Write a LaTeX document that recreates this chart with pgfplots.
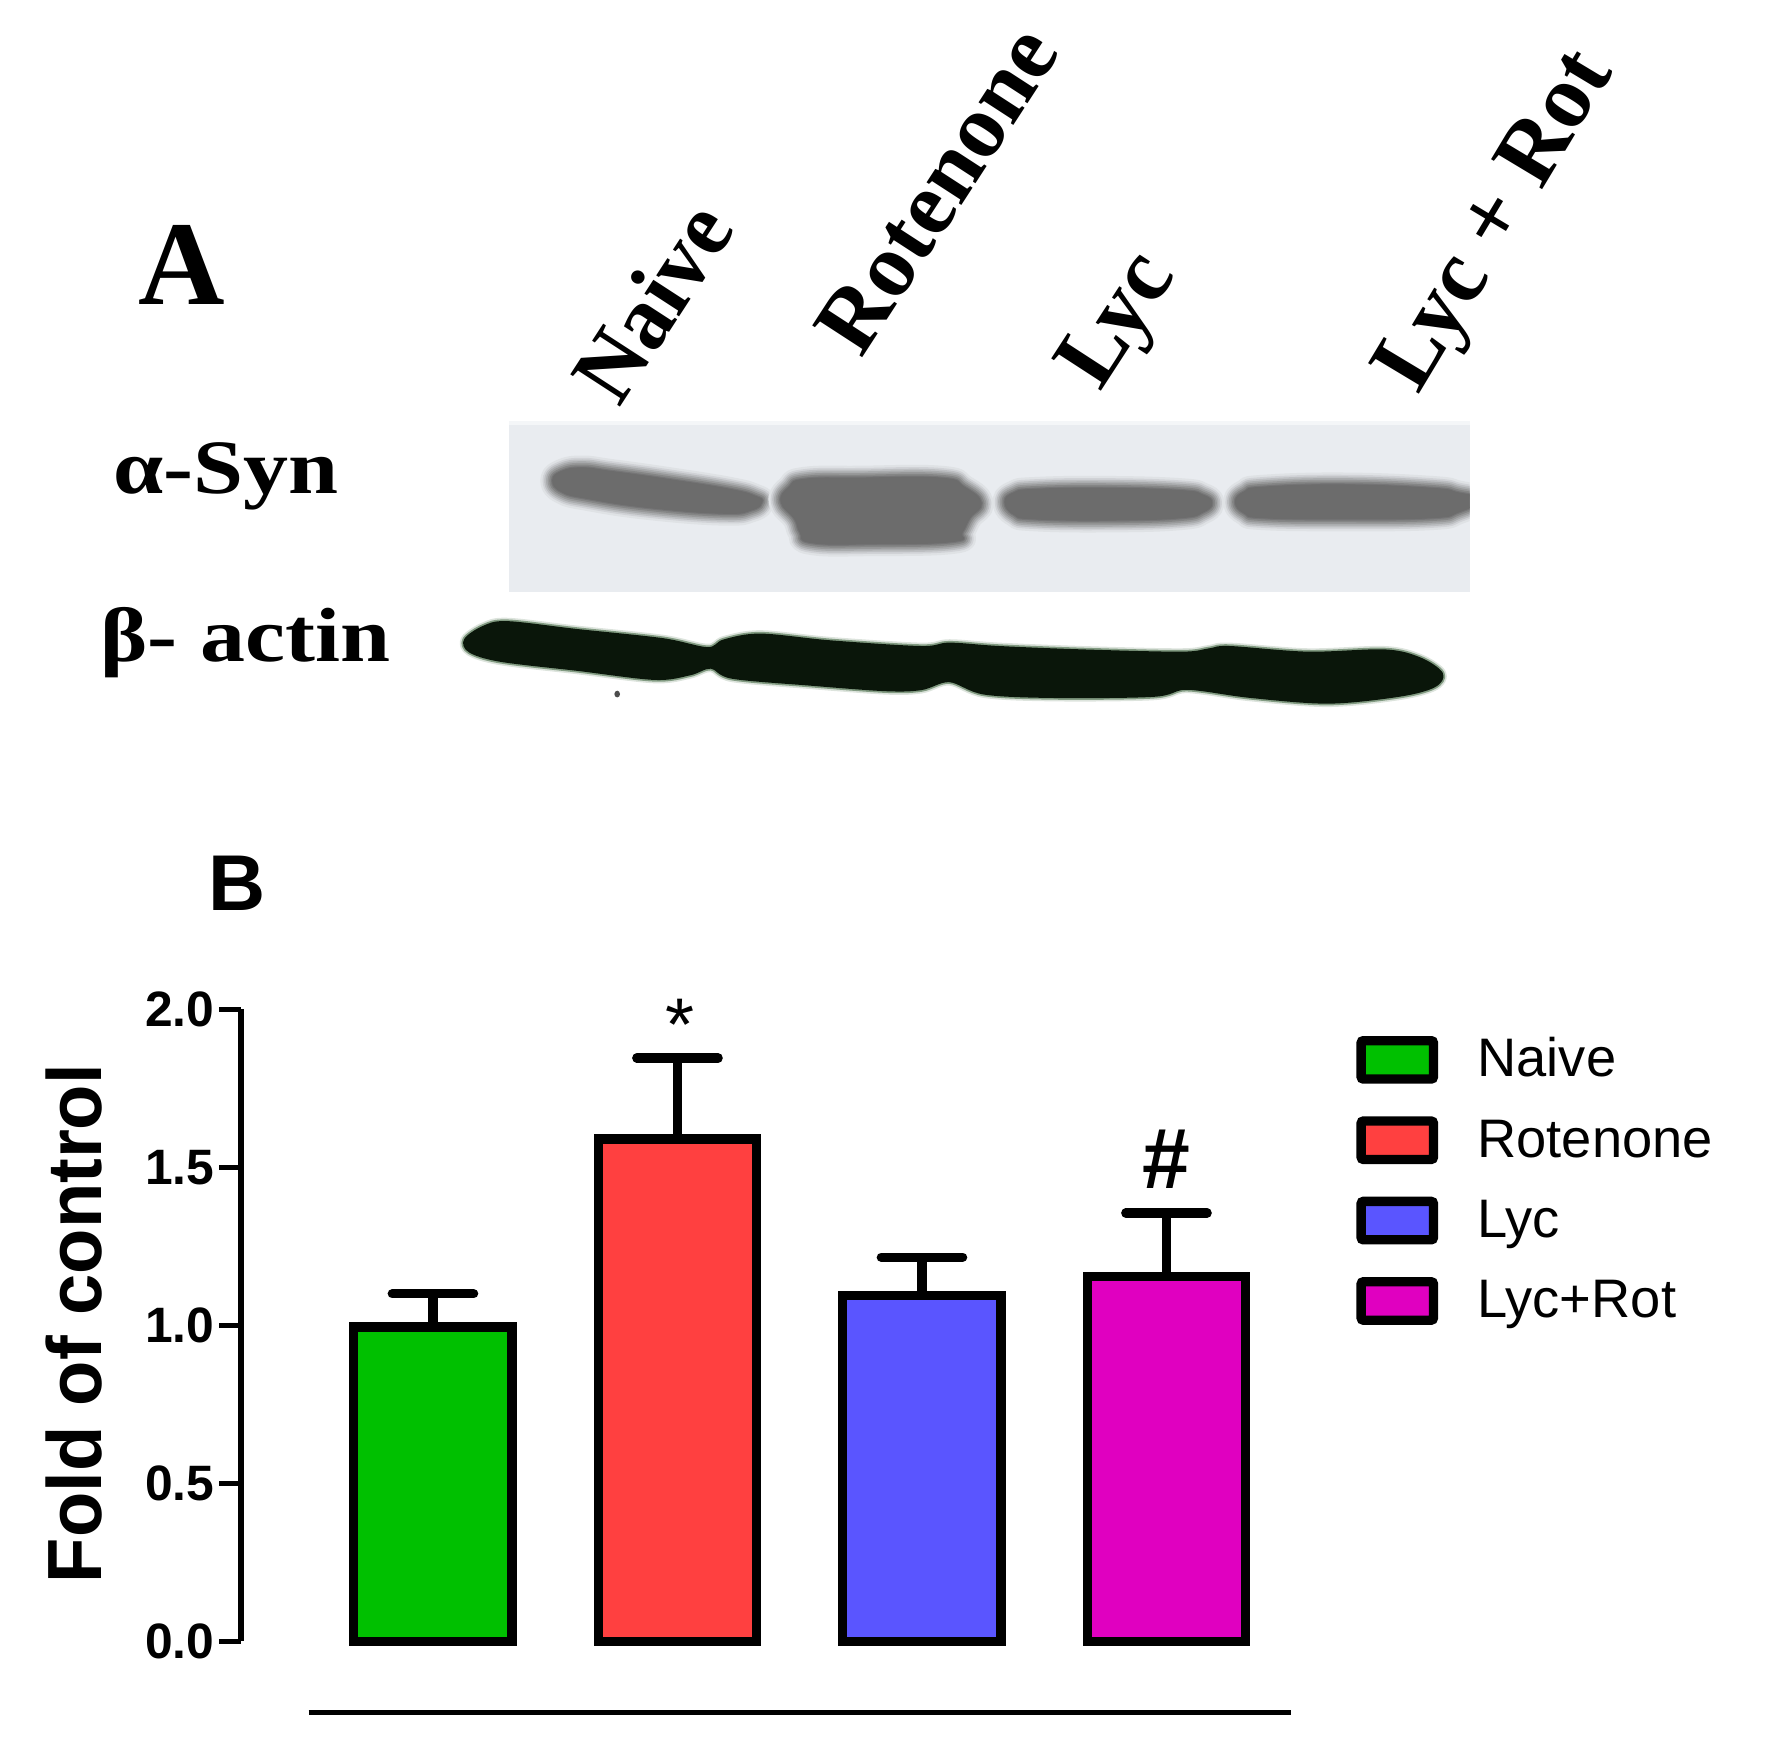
\documentclass[border=0pt]{standalone}
\usepackage{fontspec}
\setmainfont{Liberation Serif}
\newfontfamily\arial{Liberation Sans}
\usepackage{pgfplots}
\pgfplotsset{compat=1.18}
\definecolor{cgreen}{HTML}{00C000}
\definecolor{cred}{HTML}{FF4040}
\definecolor{cblue}{HTML}{5A55FF}
\definecolor{cmag}{HTML}{E000C0}
\definecolor{blotbg}{HTML}{E9ECF0}
\definecolor{band}{HTML}{6C6C6C}
\definecolor{actin}{HTML}{0A160A}
\definecolor{actinedge}{HTML}{1C4A1C}

% soft edged blob: stacked strokes going from background to band colour
\newcommand{\softblob}[3]{%
  \foreach \w/\m in {22/8,18/20,15/35,12/50,9/65,6/80,3/92,1/100}{%
    \draw[line join=round, line width=\w*0.5pt, draw={#3!\m!#2}, fill={#3!\m!#2}]
      plot[smooth cycle, tension=0.8] coordinates {#1};
  }%
}
\pgfplotsset{
  swatch/.style={legend image code/.code={%
    \path[draw=none] (0pt,0pt) -- (51.5pt,0pt);
    \draw[line width=4.1pt, draw=black, fill=#1, rounded corners=1pt]
      (0pt,-6pt) rectangle (32pt,11pt);}},
  errs/.style={
    error bars/y dir=plus, error bars/y explicit,
    error bars/error mark=|,
    error bars/error bar style={line width=4.1pt, black},
    error bars/error mark options={line width=4.1pt, mark size=18pt, black, line cap=round},
  },
}
\begin{document}
\begin{tikzpicture}
\path[use as bounding box] (0pt,0pt) rectangle (783.8pt,-775pt);

% panel A, the blots
\begin{scope}[x=0.5pt,y=-0.5pt]
  \fill[blotbg] (450,372) rectangle (1300,524);
  \begin{scope}
    \clip (450,372) rectangle (1300,524);
    \begin{scope}[shift={(0,3)}]
    \softblob{(489,422)(497,414)(515,411)(540,414)(590,421)(646,430)(668,436)(674,441)(665,448)(640,451)(574,446)(520,438)(497,432)}{blotbg}{band}
    \softblob{(691,441)(698,428)(712,421)(760,420)(832,420)(853,428)(868,442)(858,455)(851,468)(843,476)(772,478)(718,477)(708,468)(703,456)}{blotbg}{band}
    \softblob{(889,441)(897,433)(915,430)(977,429)(1044,431)(1064,435)(1072,442)(1064,450)(1044,455)(983,457)(915,456)(897,452)}{blotbg}{band}
    \softblob{(1093,441)(1101,432)(1118,428)(1188,426)(1266,429)(1290,433)(1310,439)(1290,450)(1266,455)(1188,456)(1118,455)(1101,451)}{blotbg}{band}
    \end{scope}
  \end{scope}
  \fill[white!50!blotbg] (450,372) rectangle (1300,376);
  \foreach \w/\c in {9/actinedge!15!white,6/actinedge!55!white,3/actin}{%
    \draw[line join=round, line width=\w*0.5pt, draw=\c, fill=\c]
      plot[smooth cycle, tension=0.55] coordinates {(412,566)(428,555)(449,551)(511,558)(586,566)(626,574)(641,567)(673,562)(735,568)(815,573)(840,570)(884,573)(958,576)(1045,578)(1070,575)(1088,573)(1157,578)(1225,576)(1256,583)(1275,596)(1268,607)(1237,615)(1175,621)(1107,616)(1064,610)(1045,609)(1020,615)(933,616)(871,613)(840,602)(815,609)(784,610)(716,605)(648,599)(629,590)(610,596)(579,600)(511,592)(443,584)(416,576)};
  }
  \fill[black!70] (546,614) ellipse (2.5 and 3);

  % panel A, the text
  \node[font=\bfseries\fontsize{53}{53}\selectfont, inner sep=0pt] at (161,234) {A};
  \node[font=\bfseries\fontsize{34}{34}\selectfont, inner sep=0pt, xscale=1.17, anchor=base] at (200,437) {α-Syn};
  \node[font=\bfseries\fontsize{34}{34}\selectfont, inner sep=0pt, xscale=1.17, anchor=base] at (217,585) {β- actin};
  \foreach \t/\px/\py/\s/\a in {Naive/548/362/0.97/57, Rotenone/762/318/1/57, Lyc/973/348/1/57, Lyc + Rot/1255/350/1/59}{%
    \node[font=\bfseries\fontsize{40}{40}\selectfont, inner sep=0pt, anchor=base west,
      rotate=\a, xscale=\s] at (\px,\py) {\t};
  }

  % panel B, the labels round the axis
  \node[font=\arial\bfseries\fontsize{35}{35}\selectfont, inner sep=0pt] at (210,781) {B};
  \node[font=\arial\bfseries\fontsize{34}{34}\selectfont, inner sep=0pt, rotate=90, xscale=0.965, anchor=base] at (90,1171) {Fold of control};
  \draw[line width=2.2pt] (273,1515) -- (1142,1515);
\end{scope}

\begin{axis}[
  at={(106.5pt,-726pt)}, anchor=south west,
  scale only axis, width=464.5pt, height=279.5pt,
  xmin=-0.786, xmax=3.509, ymin=0, ymax=2,
  axis y line=left, axis x line=none,
  axis line style={-, line width=2.6pt},
  ytick={0,0.5,1,1.5,2},
  tick align=outside, major tick length=9.5pt,
  ytick style={line width=2.2pt, black},
  tick label style={font=\arial\bfseries\fontsize{22}{22}\selectfont},
  /pgf/number format/assume math mode=true,
  yticklabel style={/pgf/number format/fixed, /pgf/number format/fixed zerofill, /pgf/number format/precision=1, inner sep=2pt},
  clip=false,
  legend cell align=left,
  legend style={draw=none, fill=none, at={(1.062,0.9587)}, anchor=north west,
    row sep=10.5pt, inner sep=0pt,
    nodes={inner sep=0pt, text height=17pt, text depth=7pt,
      font=\arial\fontsize{24}{24}\selectfont},
  },
  ybar, bar width=70pt, bar shift=0pt,
  every axis plot/.append style={draw=black, line width=4.1pt},
]
\addlegendimage{swatch=cgreen}\addlegendentry{Naive}
\addlegendimage{swatch=cred}\addlegendentry{Rotenone}
\addlegendimage{swatch=cblue}\addlegendentry{Lyc}
\addlegendimage{swatch=cmag}\addlegendentry{Lyc+Rot}
\addplot[errs, fill=cgreen, forget plot] coordinates {(0,0.995) +- (0,0.105)};
\addplot[errs, fill=cred, forget plot] coordinates {(1,1.59) +- (0,0.256)};
\addplot[errs, fill=cblue, forget plot] coordinates {(2,1.095) +- (0,0.121)};
\addplot[errs, fill=cmag, forget plot] coordinates {(3,1.155) +- (0,0.201)};
\node[font=\arial\fontsize{33}{33}\selectfont, inner sep=0pt] at (axis cs:1.01,1.95) {*};
\node[font=\arial\bfseries\fontsize{38}{38}\selectfont, inner sep=0pt] at (axis cs:3.0,1.525) {\#};
\end{axis}
\end{tikzpicture}
\end{document}
